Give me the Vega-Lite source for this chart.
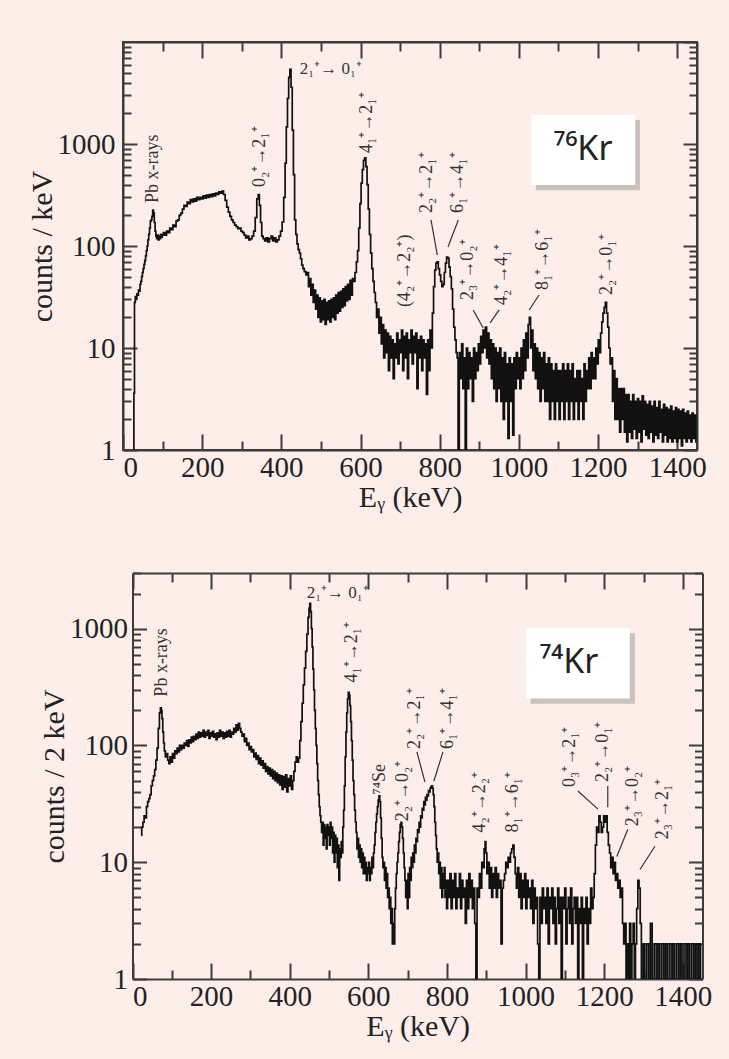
{
  "$schema": "https://vega.github.io/schema/vega-lite/v6.json",
  "background": "#fdeeea",
  "padding": {"left": 26, "top": 40, "right": 25, "bottom": 24},
  "spacing": 59,
  "config": {
    "view": {"stroke": "#3c3c3c", "strokeWidth": 2},
    "axis": {"labelFont": "Liberation Serif", "titleFont": "Liberation Serif", "labelColor": "#222", "titleColor": "#222", "titleFontWeight": "normal", "labelFontSize": 29, "titleFontSize": 30, "domainColor": "#3c3c3c", "domainWidth": 2, "tickColor": "#3c3c3c", "tickWidth": 2, "grid": false}
  },
  "datasets": {
    "kr76": [
      {"E":27,"c":1},{"E":28,"c":3.6},{"E":30,"c":28},{"E":32,"c":32},{"E":34,"c":30},{"E":36,"c":34},{"E":38,"c":33},{"E":40,"c":37},{"E":42,"c":36},{"E":44,"c":42},{"E":46,"c":45},{"E":48,"c":50},{"E":50,"c":55},{"E":52,"c":60},{"E":54,"c":66},{"E":56,"c":72},{"E":58,"c":80},{"E":60,"c":90},{"E":62,"c":100},{"E":64,"c":115},{"E":66,"c":130},{"E":68,"c":150},{"E":70,"c":175},{"E":72,"c":180},{"E":74,"c":195},{"E":76,"c":225},{"E":78,"c":210},{"E":80,"c":170},{"E":82,"c":140},{"E":84,"c":125},{"E":86,"c":118},{"E":88,"c":128},{"E":90,"c":115},{"E":92,"c":125},{"E":94,"c":118},{"E":96,"c":130},{"E":98,"c":122},{"E":100,"c":128},{"E":104,"c":135},{"E":108,"c":128},{"E":112,"c":140},{"E":116,"c":135},{"E":120,"c":150},{"E":124,"c":145},{"E":128,"c":160},{"E":132,"c":155},{"E":136,"c":175},{"E":140,"c":180},{"E":144,"c":200},{"E":148,"c":210},{"E":152,"c":230},{"E":156,"c":250},{"E":160,"c":245},{"E":164,"c":270},{"E":168,"c":260},{"E":172,"c":285},{"E":176,"c":270},{"E":180,"c":290},{"E":184,"c":275},{"E":188,"c":300},{"E":192,"c":285},{"E":196,"c":300},{"E":200,"c":290},{"E":204,"c":310},{"E":208,"c":295},{"E":212,"c":315},{"E":216,"c":300},{"E":220,"c":320},{"E":224,"c":305},{"E":228,"c":325},{"E":232,"c":310},{"E":236,"c":330},{"E":240,"c":320},{"E":244,"c":340},{"E":248,"c":330},{"E":252,"c":345},{"E":256,"c":320},{"E":260,"c":280},{"E":264,"c":240},{"E":268,"c":215},{"E":272,"c":195},{"E":276,"c":180},{"E":280,"c":170},{"E":284,"c":160},{"E":288,"c":155},{"E":292,"c":148},{"E":296,"c":150},{"E":300,"c":140},{"E":304,"c":135},{"E":308,"c":128},{"E":312,"c":120},{"E":316,"c":125},{"E":320,"c":115},{"E":324,"c":118},{"E":328,"c":125},{"E":332,"c":140},{"E":336,"c":190},{"E":340,"c":290},{"E":343,"c":320},{"E":346,"c":250},{"E":349,"c":170},{"E":352,"c":125},{"E":356,"c":118},{"E":360,"c":112},{"E":364,"c":120},{"E":368,"c":110},{"E":372,"c":118},{"E":376,"c":125},{"E":380,"c":112},{"E":384,"c":120},{"E":388,"c":110},{"E":392,"c":115},{"E":396,"c":125},{"E":400,"c":140},{"E":404,"c":172},{"E":408,"c":300},{"E":411,"c":650},{"E":414,"c":1470},{"E":417,"c":2800},{"E":420,"c":4500},{"E":423,"c":5400},{"E":426,"c":3600},{"E":429,"c":1370},{"E":432,"c":500},{"E":435,"c":180},{"E":438,"c":130},{"E":441,"c":105},{"E":444,"c":92},{"E":447,"c":85},{"E":450,"c":75},{"E":453,"c":65},{"E":456,"c":60},{"E":460,"c":56},{"E":464,"c":52},
      {"E":467,"c":55},{"E":470,"c":40},{"E":473,"c":48},{"E":476,"c":33},{"E":479,"c":42},{"E":482,"c":28},{"E":485,"c":37},{"E":488,"c":24},{"E":491,"c":33},{"E":494,"c":20},{"E":497,"c":31},{"E":500,"c":18},{"E":503,"c":29},{"E":506,"c":19},{"E":509,"c":30},{"E":512,"c":17},{"E":515,"c":28},{"E":518,"c":19},{"E":521,"c":29},{"E":524,"c":18},{"E":527,"c":30},{"E":530,"c":20},{"E":533,"c":31},{"E":536,"c":19},{"E":539,"c":33},{"E":542,"c":22},{"E":545,"c":35},{"E":548,"c":23},{"E":551,"c":36},{"E":554,"c":25},{"E":557,"c":38},{"E":560,"c":26},{"E":563,"c":40},{"E":566,"c":29},{"E":569,"c":42},{"E":572,"c":30},{"E":575,"c":46},{"E":578,"c":33},{"E":581,"c":48},{"E":584,"c":45},{"E":588,"c":55},{"E":591,"c":70},{"E":594,"c":90},{"E":597,"c":150},{"E":600,"c":260},{"E":603,"c":414},{"E":606,"c":560},{"E":609,"c":690},{"E":612,"c":730},{"E":615,"c":600},{"E":618,"c":400},{"E":621,"c":230},{"E":624,"c":130},{"E":627,"c":85},{"E":630,"c":60},{"E":633,"c":45},{"E":636,"c":35},
      {"E":639,"c":28},{"E":642,"c":20},{"E":645,"c":24},{"E":648,"c":14},{"E":651,"c":20},{"E":654,"c":11},{"E":657,"c":17},{"E":660,"c":8},{"E":663,"c":15},{"E":666,"c":9},{"E":669,"c":14},{"E":672,"c":6},{"E":675,"c":13},{"E":678,"c":8},{"E":681,"c":12},{"E":684,"c":5},{"E":687,"c":11},{"E":690,"c":8},{"E":693,"c":14},{"E":696,"c":7},{"E":699,"c":12},{"E":702,"c":9},{"E":705,"c":15},{"E":708,"c":6},{"E":711,"c":13},{"E":714,"c":8},{"E":717,"c":14},{"E":720,"c":5},{"E":723,"c":12},{"E":726,"c":9},{"E":729,"c":15},{"E":732,"c":7},{"E":735,"c":13},{"E":738,"c":9},{"E":741,"c":14},{"E":744,"c":4},{"E":747,"c":12},{"E":750,"c":8},{"E":753,"c":13},{"E":756,"c":6},{"E":759,"c":12},{"E":762,"c":8},{"E":765,"c":11},{"E":768,"c":3.5},{"E":771,"c":12},{"E":774,"c":6},{"E":777,"c":15},{"E":780,"c":10},{"E":783,"c":22},{"E":786,"c":40},{"E":789,"c":58},{"E":792,"c":68},{"E":795,"c":70},{"E":798,"c":60},{"E":801,"c":52},{"E":804,"c":45},{"E":807,"c":40},{"E":810,"c":42},{"E":813,"c":55},{"E":816,"c":68},{"E":819,"c":78},{"E":822,"c":76},{"E":825,"c":62},{"E":828,"c":50},{"E":831,"c":38},{"E":834,"c":24},{"E":837,"c":16},{"E":840,"c":12},{"E":843,"c":9},
      {"E":845,"c":8},{"E":848,"c":1},{"E":851,"c":9},{"E":854,"c":5},{"E":857,"c":11},{"E":860,"c":4},{"E":863,"c":8},{"E":866,"c":1},{"E":869,"c":10},{"E":872,"c":4},{"E":875,"c":9},{"E":878,"c":5},{"E":881,"c":8},{"E":884,"c":3},{"E":887,"c":10},{"E":890,"c":5},{"E":893,"c":9},{"E":896,"c":6},{"E":899,"c":11},{"E":902,"c":7},{"E":905,"c":13},{"E":908,"c":9},{"E":911,"c":15},{"E":914,"c":10},{"E":917,"c":16},{"E":920,"c":8},{"E":923,"c":14},{"E":926,"c":7},{"E":929,"c":12},{"E":932,"c":5},{"E":935,"c":11},{"E":938,"c":4},{"E":941,"c":10},{"E":944,"c":3},{"E":947,"c":9},{"E":950,"c":4},{"E":953,"c":10},{"E":956,"c":3},{"E":959,"c":8},{"E":962,"c":2},{"E":965,"c":9},{"E":968,"c":3},{"E":971,"c":7},{"E":974,"c":1.3},{"E":977,"c":8},{"E":980,"c":3},{"E":983,"c":7},{"E":986,"c":1.4},{"E":989,"c":8},{"E":992,"c":4},{"E":995,"c":9},{"E":998,"c":5},{"E":1001,"c":8},{"E":1004,"c":4},{"E":1007,"c":10},{"E":1010,"c":5},{"E":1013,"c":12},{"E":1016,"c":6},{"E":1019,"c":14},{"E":1022,"c":8},{"E":1025,"c":17},{"E":1028,"c":20},{"E":1031,"c":10},{"E":1034,"c":15},{"E":1037,"c":6},{"E":1040,"c":11},{"E":1043,"c":5},{"E":1046,"c":10},{"E":1049,"c":4},{"E":1052,"c":9},{"E":1055,"c":3},{"E":1058,"c":8},{"E":1061,"c":4},{"E":1064,"c":9},{"E":1067,"c":3},{"E":1070,"c":7},{"E":1073,"c":3},{"E":1076,"c":8},{"E":1079,"c":2},{"E":1082,"c":7},{"E":1085,"c":3},{"E":1088,"c":6},{"E":1091,"c":2},{"E":1094,"c":7},{"E":1097,"c":3},{"E":1100,"c":6},{"E":1103,"c":2},{"E":1106,"c":6},{"E":1109,"c":3},{"E":1112,"c":7},{"E":1115,"c":2},{"E":1118,"c":6},{"E":1121,"c":3},{"E":1124,"c":7},{"E":1127,"c":2},{"E":1130,"c":6},{"E":1133,"c":3},{"E":1136,"c":7},{"E":1139,"c":2},{"E":1142,"c":5},{"E":1145,"c":3},{"E":1148,"c":6},{"E":1151,"c":2},{"E":1154,"c":6},{"E":1157,"c":3},{"E":1160,"c":5},{"E":1163,"c":2},{"E":1166,"c":7},{"E":1169,"c":3},{"E":1172,"c":6},{"E":1175,"c":4},{"E":1178,"c":8},{"E":1181,"c":4},{"E":1184,"c":9},{"E":1187,"c":5},{"E":1190,"c":8},{"E":1193,"c":5},{"E":1196,"c":10},{"E":1199,"c":7},{"E":1202,"c":12},{"E":1205,"c":9},{"E":1208,"c":14},{"E":1211,"c":18},{"E":1214,"c":22},{"E":1217,"c":25},{"E":1220,"c":28},{"E":1223,"c":22},{"E":1226,"c":16},{"E":1229,"c":10},{"E":1232,"c":7},{"E":1235,"c":8},{"E":1238,"c":3},{"E":1241,"c":6},{"E":1244,"c":2},{"E":1247,"c":5},{"E":1250,"c":2},{"E":1253,"c":4},{"E":1256,"c":1.5},{"E":1259,"c":4},{"E":1262,"c":2},{"E":1265,"c":4},{"E":1268,"c":1.5},{"E":1271,"c":3.5},{"E":1274,"c":1.2},{"E":1277,"c":3.5},{"E":1280,"c":1.5},{"E":1283,"c":3},{"E":1286,"c":1.3},{"E":1289,"c":3.5},{"E":1292,"c":1.6},{"E":1295,"c":3},{"E":1298,"c":1.3},{"E":1301,"c":3.2},{"E":1304,"c":1.5},{"E":1307,"c":3},{"E":1310,"c":1.2},{"E":1313,"c":3.4},{"E":1316,"c":1.6},{"E":1319,"c":3},{"E":1322,"c":1.4},{"E":1325,"c":2.8},{"E":1328,"c":1.3},{"E":1331,"c":3},{"E":1334,"c":1.5},{"E":1337,"c":2.7},{"E":1340,"c":1.2},{"E":1343,"c":3},{"E":1346,"c":1.4},{"E":1349,"c":2.6},{"E":1352,"c":1.3},{"E":1355,"c":3},{"E":1358,"c":1.5},{"E":1361,"c":2.5},{"E":1364,"c":1.2},{"E":1367,"c":2.8},{"E":1370,"c":1.4},{"E":1373,"c":2.6},{"E":1376,"c":1.2},{"E":1379,"c":2.5},{"E":1382,"c":1.3},{"E":1385,"c":2.7},{"E":1388,"c":1.2},{"E":1391,"c":2.4},{"E":1394,"c":1.3},{"E":1397,"c":2.6},{"E":1400,"c":1.2},{"E":1403,"c":2.5},{"E":1406,"c":1.3},{"E":1409,"c":2.4},{"E":1412,"c":1.1},{"E":1415,"c":2.5},{"E":1418,"c":1.3},{"E":1421,"c":2.3},{"E":1424,"c":1.2},{"E":1427,"c":2.4},{"E":1430,"c":1.3},{"E":1433,"c":2.2},{"E":1436,"c":1.2},{"E":1439,"c":2.3},{"E":1442,"c":1.3},{"E":1445,"c":2.2},{"E":1449,"c":1.2}
    ],
    "kr74": [
      {"E":22,"c":17},{"E":25,"c":20},{"E":28,"c":22},{"E":31,"c":25},{"E":34,"c":24},{"E":37,"c":30},{"E":40,"c":33},{"E":43,"c":35},{"E":46,"c":38},{"E":49,"c":45},{"E":52,"c":50},{"E":55,"c":55},{"E":58,"c":62},{"E":61,"c":75},{"E":64,"c":95},{"E":67,"c":140},{"E":70,"c":190},{"E":72,"c":210},{"E":74,"c":200},{"E":76,"c":170},{"E":78,"c":130},{"E":80,"c":105},{"E":82,"c":90},{"E":85,"c":80},{"E":88,"c":85},{"E":91,"c":75},{"E":94,"c":70},{"E":97,"c":80},{"E":100,"c":72},{"E":103,"c":85},{"E":106,"c":78},{"E":109,"c":90},{"E":112,"c":85},{"E":115,"c":95},{"E":118,"c":88},{"E":121,"c":100},{"E":124,"c":92},{"E":127,"c":100},{"E":130,"c":95},{"E":133,"c":105},{"E":136,"c":100},{"E":139,"c":110},{"E":142,"c":98},{"E":145,"c":112},{"E":148,"c":105},{"E":151,"c":118},{"E":154,"c":108},{"E":157,"c":120},{"E":160,"c":112},{"E":163,"c":125},{"E":166,"c":115},{"E":169,"c":130},{"E":172,"c":118},{"E":175,"c":128},{"E":178,"c":120},{"E":181,"c":135},{"E":184,"c":118},{"E":187,"c":130},{"E":190,"c":122},{"E":193,"c":135},{"E":196,"c":115},{"E":199,"c":128},{"E":202,"c":120},{"E":205,"c":132},{"E":208,"c":118},{"E":211,"c":126},{"E":214,"c":112},{"E":217,"c":128},{"E":220,"c":118},{"E":223,"c":135},{"E":226,"c":120},{"E":229,"c":130},{"E":232,"c":115},{"E":235,"c":128},{"E":238,"c":118},{"E":241,"c":132},{"E":244,"c":120},{"E":247,"c":135},{"E":250,"c":118},{"E":253,"c":130},{"E":256,"c":125},{"E":259,"c":140},{"E":262,"c":130},{"E":265,"c":150},{"E":268,"c":135},{"E":271,"c":155},{"E":274,"c":140},{"E":277,"c":130},{"E":280,"c":120},{"E":283,"c":125},{"E":286,"c":108},{"E":289,"c":115},{"E":292,"c":100},{"E":295,"c":105},{"E":298,"c":92},{"E":301,"c":98},{"E":304,"c":88},{"E":307,"c":92},{"E":310,"c":80},{"E":313,"c":86},{"E":316,"c":76},{"E":319,"c":82},{"E":322,"c":70},{"E":325,"c":78},{"E":328,"c":68},{"E":331,"c":74},{"E":334,"c":64},{"E":337,"c":70},{"E":340,"c":60},{"E":343,"c":66},{"E":346,"c":57},{"E":349,"c":64},{"E":352,"c":55},{"E":355,"c":62},{"E":358,"c":52},{"E":361,"c":60},{"E":364,"c":50},{"E":367,"c":58},{"E":370,"c":48},{"E":373,"c":56},{"E":376,"c":46},{"E":379,"c":55},{"E":382,"c":42},{"E":385,"c":54},{"E":388,"c":44},{"E":391,"c":56},{"E":394,"c":40},{"E":397,"c":52},{"E":400,"c":45},{"E":403,"c":55},{"E":406,"c":42},{"E":409,"c":50},{"E":412,"c":60},{"E":415,"c":72},{"E":418,"c":80},{"E":421,"c":72},{"E":424,"c":78},{"E":427,"c":110},{"E":430,"c":160},{"E":433,"c":230},{"E":436,"c":330},{"E":439,"c":460},{"E":442,"c":640},{"E":445,"c":900},{"E":448,"c":1250},{"E":450,"c":1500},{"E":452,"c":1650},{"E":454,"c":1400},{"E":456,"c":1000},{"E":458,"c":700},{"E":460,"c":450},{"E":462,"c":300},{"E":464,"c":200},{"E":466,"c":140},{"E":468,"c":100},{"E":470,"c":70},{"E":472,"c":50},{"E":474,"c":38},{"E":476,"c":30},{"E":478,"c":25},{"E":480,"c":22},{"E":482,"c":18},{"E":484,"c":22},{"E":486,"c":14},{"E":488,"c":21},{"E":490,"c":16},{"E":492,"c":20},{"E":494,"c":13},{"E":496,"c":21},{"E":498,"c":17},{"E":500,"c":20},{"E":502,"c":14},{"E":504,"c":22},{"E":506,"c":16},{"E":508,"c":20},{"E":510,"c":12},{"E":512,"c":18},{"E":514,"c":10},{"E":516,"c":17},{"E":518,"c":12},{"E":520,"c":16},{"E":522,"c":9},{"E":524,"c":14},{"E":526,"c":7},{"E":528,"c":13},{"E":530,"c":11},{"E":532,"c":15},{"E":534,"c":12},{"E":536,"c":20},{"E":538,"c":28},{"E":540,"c":45},{"E":542,"c":80},{"E":544,"c":130},{"E":546,"c":190},{"E":548,"c":250},{"E":550,"c":285},{"E":552,"c":270},{"E":554,"c":220},{"E":556,"c":160},{"E":558,"c":110},{"E":560,"c":75},
      {"E":562,"c":50},{"E":564,"c":38},{"E":566,"c":28},{"E":568,"c":22},{"E":570,"c":18},{"E":572,"c":13},{"E":574,"c":16},{"E":576,"c":11},{"E":578,"c":14},{"E":580,"c":10},{"E":582,"c":13},{"E":584,"c":9},{"E":586,"c":12},{"E":588,"c":8},{"E":590,"c":11},{"E":592,"c":8},{"E":594,"c":10},{"E":596,"c":7},{"E":598,"c":9},{"E":600,"c":8},{"E":602,"c":10},{"E":604,"c":7},{"E":606,"c":9},{"E":608,"c":8},{"E":610,"c":11},{"E":612,"c":9},{"E":614,"c":12},{"E":616,"c":14},{"E":618,"c":18},{"E":620,"c":22},{"E":622,"c":26},{"E":624,"c":30},{"E":626,"c":34},{"E":628,"c":37},{"E":630,"c":33},{"E":632,"c":24},{"E":634,"c":16},{"E":636,"c":11},{"E":638,"c":9},{"E":640,"c":10},{"E":642,"c":7},{"E":644,"c":9},{"E":646,"c":6},{"E":648,"c":8},{"E":650,"c":5},{"E":652,"c":6},{"E":654,"c":4},{"E":656,"c":5},{"E":658,"c":3},{"E":660,"c":4},{"E":662,"c":2},{"E":664,"c":3},{"E":666,"c":2},{"E":668,"c":4},{"E":670,"c":6},{"E":672,"c":8},{"E":674,"c":10},{"E":676,"c":12},{"E":678,"c":15},{"E":680,"c":18},{"E":682,"c":21},{"E":684,"c":22},{"E":686,"c":20},{"E":688,"c":16},{"E":690,"c":12},{"E":692,"c":9},{"E":694,"c":7},{"E":696,"c":5},{"E":698,"c":7},{"E":700,"c":4},{"E":702,"c":8},{"E":704,"c":5},{"E":706,"c":9},{"E":708,"c":7},{"E":710,"c":11},{"E":712,"c":9},{"E":714,"c":12},{"E":716,"c":10},{"E":718,"c":14},{"E":720,"c":12},{"E":722,"c":16},{"E":724,"c":15},{"E":726,"c":19},{"E":728,"c":18},{"E":730,"c":22},{"E":732,"c":20},{"E":734,"c":25},{"E":736,"c":24},{"E":738,"c":29},{"E":740,"c":28},{"E":742,"c":33},{"E":744,"c":31},{"E":746,"c":36},{"E":748,"c":34},{"E":750,"c":38},{"E":752,"c":37},{"E":754,"c":41},{"E":756,"c":40},{"E":758,"c":43},{"E":760,"c":44},{"E":762,"c":45},{"E":764,"c":43},{"E":766,"c":38},{"E":768,"c":30},{"E":770,"c":22},{"E":772,"c":17},{"E":774,"c":13},{"E":776,"c":10},{"E":778,"c":12},{"E":780,"c":8},{"E":782,"c":10},{"E":784,"c":6},{"E":786,"c":9},{"E":788,"c":5},{"E":790,"c":8},{"E":792,"c":6},{"E":794,"c":9},{"E":796,"c":5},{"E":798,"c":7},
      {"E":800,"c":4},{"E":803,"c":7},{"E":806,"c":5},{"E":809,"c":8},{"E":812,"c":4},{"E":815,"c":7},{"E":818,"c":5},{"E":821,"c":8},{"E":824,"c":4},{"E":827,"c":6},{"E":830,"c":5},{"E":833,"c":8},{"E":836,"c":4},{"E":839,"c":7},{"E":842,"c":5},{"E":845,"c":6},{"E":848,"c":3},{"E":851,"c":7},{"E":854,"c":4},{"E":857,"c":8},{"E":860,"c":5},{"E":863,"c":7},{"E":866,"c":4},{"E":869,"c":6},{"E":872,"c":3},{"E":875,"c":1},{"E":878,"c":6},{"E":881,"c":5},{"E":884,"c":8},{"E":887,"c":6},{"E":890,"c":10},{"E":893,"c":9},{"E":896,"c":13},{"E":898,"c":15},{"E":900,"c":12},{"E":903,"c":8},{"E":906,"c":10},{"E":909,"c":6},{"E":912,"c":9},{"E":915,"c":5},{"E":918,"c":8},{"E":921,"c":6},{"E":924,"c":9},{"E":927,"c":5},{"E":930,"c":8},{"E":933,"c":6},{"E":936,"c":7},{"E":939,"c":2},{"E":942,"c":6},{"E":945,"c":7},{"E":948,"c":8},{"E":951,"c":10},{"E":954,"c":9},{"E":957,"c":11},{"E":960,"c":10},{"E":963,"c":12},{"E":966,"c":13},{"E":969,"c":14},{"E":972,"c":11},{"E":975,"c":8},{"E":978,"c":6},{"E":981,"c":9},{"E":984,"c":5},{"E":987,"c":8},{"E":990,"c":4},{"E":993,"c":7},{"E":996,"c":5},{"E":999,"c":8},{"E":1002,"c":4},{"E":1005,"c":7},{"E":1008,"c":5},{"E":1011,"c":6},{"E":1014,"c":4},{"E":1017,"c":7},{"E":1020,"c":3},{"E":1023,"c":6},{"E":1026,"c":4},{"E":1029,"c":5},{"E":1032,"c":2},{"E":1035,"c":1},{"E":1038,"c":5},{"E":1041,"c":3},{"E":1044,"c":6},{"E":1047,"c":4},{"E":1050,"c":5},{"E":1053,"c":3},{"E":1056,"c":6},{"E":1059,"c":2},{"E":1062,"c":5},{"E":1065,"c":4},{"E":1068,"c":6},{"E":1071,"c":3},{"E":1074,"c":5},{"E":1077,"c":2},{"E":1080,"c":4},{"E":1083,"c":6},{"E":1086,"c":3},{"E":1089,"c":5},{"E":1092,"c":1},{"E":1095,"c":5},{"E":1098,"c":4},{"E":1101,"c":6},{"E":1104,"c":2},{"E":1107,"c":4},{"E":1110,"c":5},{"E":1113,"c":3},{"E":1116,"c":6},{"E":1119,"c":2},{"E":1122,"c":4},{"E":1125,"c":5},{"E":1128,"c":3},{"E":1131,"c":5},{"E":1134,"c":1},{"E":1137,"c":4},{"E":1140,"c":3},{"E":1143,"c":5},{"E":1146,"c":1},{"E":1149,"c":4},{"E":1152,"c":3},{"E":1155,"c":5},{"E":1158,"c":2},{"E":1161,"c":4},{"E":1164,"c":3},{"E":1167,"c":6},{"E":1170,"c":4},{"E":1173,"c":5},{"E":1176,"c":8},{"E":1179,"c":14},{"E":1182,"c":20},{"E":1185,"c":18},{"E":1188,"c":25},{"E":1191,"c":22},{"E":1194,"c":18},{"E":1197,"c":20},{"E":1200,"c":25},{"E":1203,"c":22},{"E":1206,"c":25},{"E":1209,"c":18},{"E":1212,"c":14},{"E":1215,"c":12},{"E":1218,"c":9},{"E":1221,"c":11},{"E":1224,"c":8},{"E":1227,"c":10},{"E":1230,"c":7},{"E":1233,"c":8},{"E":1236,"c":6},{"E":1239,"c":7},{"E":1242,"c":5},{"E":1245,"c":6},{"E":1248,"c":3},{"E":1251,"c":2},{"E":1254,"c":3},{"E":1257,"c":1},{"E":1260,"c":2},{"E":1263,"c":1},{"E":1266,"c":3},{"E":1269,"c":1},{"E":1272,"c":2},{"E":1275,"c":3},{"E":1278,"c":1},{"E":1281,"c":2},{"E":1284,"c":4},{"E":1287,"c":7},{"E":1290,"c":6},{"E":1293,"c":3},{"E":1296,"c":1},{"E":1302,"c":2},{"E":1304,"c":1},{"E":1312,"c":2},{"E":1314,"c":1},{"E":1321,"c":3},{"E":1323,"c":1},{"E":1331,"c":2},{"E":1333,"c":1},{"E":1340,"c":2},{"E":1342,"c":1},{"E":1350,"c":2},{"E":1352,"c":1},{"E":1359,"c":2},{"E":1361,"c":1},{"E":1369,"c":2},{"E":1371,"c":1},{"E":1378,"c":2},{"E":1380,"c":1},{"E":1388,"c":2},{"E":1390,"c":1},{"E":1397,"c":2},{"E":1399,"c":1},{"E":1407,"c":2},{"E":1409,"c":1},{"E":1416,"c":2},{"E":1418,"c":1},{"E":1426,"c":2},{"E":1428,"c":1},{"E":1435,"c":2},{"E":1437,"c":1},{"E":1444,"c":2},{"E":1446,"c":1},{"E":1449,"c":1}
    ],
    "ann76": [
      {"label":"Pb x-rays","E":76,"c":264},
      {"label":"0₂⁺→2₁⁺","E":346,"c":379},
      {"label":"4₁⁺→2₁⁺","E":617,"c":816},
      {"label":"2₂⁺→2₁⁺","E":768,"c":211},
      {"label":"6₁⁺→4₁⁺","E":847,"c":211},
      {"label":"(4₂⁺→2₂⁺)","E":713,"c":25.2},
      {"label":"2₃⁺→0₂⁺","E":872,"c":29.6},
      {"label":"4₂⁺→4₁⁺","E":958,"c":26.4},
      {"label":"8₁⁺→6₁⁺","E":1061,"c":37},
      {"label":"2₂⁺→0₁⁺","E":1223,"c":33.1}
    ],
    "lead76": [
      {"E":778,"c":180,"E2":794,"c2":81.6},
      {"E":847,"c":180,"E2":821,"c2":97.8},
      {"E":884.5,"c":23.6,"E2":910,"c2":15.7},
      {"E":950,"c":23.6,"E2":927.5,"c2":17.6},
      {"E":1051,"c":33.1,"E2":1026,"c2":23.6}
    ],
    "head76": [{"label":"2₁⁺→ 0₁⁺","E":525,"c":5436}],
    "nuc76": [{"label":"⁷⁶Kr","E":1162,"c":873}],
    "ann74": [
      {"label":"Pb x-rays","E":75,"c":262},
      {"label":"4₁⁺→2₁⁺","E":558,"c":346},
      {"label":"⁷⁴Se","E":629,"c":38},
      {"label":"2₂⁺→0₂⁺","E":688,"c":22.4},
      {"label":"2₂⁺→2₁⁺","E":718,"c":93.5},
      {"label":"6₁⁺→4₁⁺","E":802,"c":93.5},
      {"label":"4₂⁺→2₂⁺","E":884,"c":18},
      {"label":"8₁⁺→6₁⁺","E":968,"c":18},
      {"label":"0₃⁺→2₁⁺","E":1113,"c":44},
      {"label":"2₂⁺→0₁⁺","E":1196.5,"c":48.6},
      {"label":"2₃⁺→0₂⁺","E":1273,"c":20.3},
      {"label":"2₃⁺→2₁⁺","E":1349,"c":15.7}
    ],
    "lead74": [
      {"E":723.5,"c":88.1,"E2":744,"c2":48.6},
      {"E":789.7,"c":88.1,"E2":766.8,"c2":49.6},
      {"E":1133,"c":40.7,"E2":1184,"c2":28.5},
      {"E":1209,"c":44.9,"E2":1209,"c2":29.6},
      {"E":1260,"c":19.2,"E2":1232,"c2":11.2},
      {"E":1329,"c":13.7,"E2":1291,"c2":8.67}
    ],
    "head74": [{"label":"2₁⁺→ 0₁⁺","E":522,"c":2018}],
    "nuc74": [{"label":"⁷⁴Kr","E":1110,"c":504}]
  },
  "vconcat": [
    {
      "width": 574,
      "height": 408,
      "resolve": {"axis": {"x": "independent", "y": "independent"}},
      "layer": [
        {
          "data": {"name": "nuc76"},
          "mark": {"type": "rect", "fill": "#8a8a8a", "opacity": 0.45},
          "encoding": {
            "x": {"datum": 1043, "type": "quantitative", "scale": {"type": "linear", "domain": [0, 1450], "nice": false, "zero": false}, "axis": null},
            "x2": {"datum": 1306},
            "y": {"datum": 353, "type": "quantitative", "scale": {"type": "log", "domain": [1, 10000], "nice": false}, "axis": null},
            "y2": {"datum": 1718}
          }
        },
        {
          "data": {"name": "nuc76"},
          "mark": {"type": "rect", "fill": "#ffffff"},
          "encoding": {
            "x": {"datum": 1031, "type": "quantitative", "scale": {"type": "linear", "domain": [0, 1450], "nice": false, "zero": false}, "axis": null},
            "x2": {"datum": 1294},
            "y": {"datum": 396, "type": "quantitative", "scale": {"type": "log", "domain": [1, 10000], "nice": false}, "axis": null},
            "y2": {"datum": 1924}
          }
        },
        {
          "data": {"name": "nuc76"},
          "mark": {"type": "text", "font": "Noto Sans", "fontSize": 34, "color": "#222", "align": "center", "baseline": "middle"},
          "encoding": {
            "x": {"field": "E", "type": "quantitative", "scale": {"type": "linear", "domain": [0, 1450], "nice": false, "zero": false}, "axis": null},
            "y": {"field": "c", "type": "quantitative", "scale": {"type": "log", "domain": [1, 10000], "nice": false}, "axis": null},
            "text": {"field": "label"}
          }
        },
        {
          "data": {"name": "kr76"},
          "mark": {"type": "line", "interpolate": "step", "color": "#111", "strokeWidth": 1.7, "clip": true},
          "encoding": {
            "x": {"field": "E", "type": "quantitative", "scale": {"type": "linear", "domain": [0, 1450], "nice": false, "zero": false},
              "axis": {"orient": "bottom", "title": "Eᵧ  (keV)", "values": [0,200,400,600,800,1000,1200,1400], "format": "d", "tickSize": -16, "labelPadding": 19, "titlePadding": 0}},
            "y": {"field": "c", "type": "quantitative", "scale": {"type": "log", "domain": [1, 10000], "nice": false},
              "axis": {"orient": "left", "title": "counts / keV", "values": [1,10,100,1000], "format": "d", "tickSize": -14, "labelPadding": 22, "titlePadding": 0}}
          }
        },
        {
          "data": {"name": "ann76"},
          "mark": {"type": "text", "angle": 270, "align": "left", "baseline": "middle", "font": "Liberation Serif", "fontSize": 18, "color": "#333"},
          "encoding": {
            "x": {"field": "E", "type": "quantitative", "scale": {"type": "linear", "domain": [0, 1450], "nice": false, "zero": false},
              "axis": {"orient": "bottom", "title": null, "labels": false, "domain": false, "values": [100,300,500,700,900,1100,1300], "tickSize": -9}},
            "y": {"field": "c", "type": "quantitative", "scale": {"type": "log", "domain": [1, 10000], "nice": false},
              "axis": {"orient": "left", "title": null, "labels": false, "domain": false, "values": [2,3,4,5,6,7,8,9,20,30,40,50,60,70,80,90,200,300,400,500,600,700,800,900,2000,3000,4000,5000,6000,7000,8000,9000], "tickSize": -8}},
            "text": {"field": "label"}
          }
        },
        {
          "data": {"name": "head76"},
          "mark": {"type": "text", "align": "center", "baseline": "middle", "font": "Liberation Serif", "fontSize": 17, "color": "#333"},
          "encoding": {
            "x": {"field": "E", "type": "quantitative", "scale": {"type": "linear", "domain": [0, 1450], "nice": false, "zero": false},
              "axis": {"orient": "top", "title": null, "labels": false, "domain": false, "values": [100,300,500,700,900,1100,1300], "tickSize": -9}},
            "y": {"field": "c", "type": "quantitative", "scale": {"type": "log", "domain": [1, 10000], "nice": false},
              "axis": {"orient": "right", "title": null, "labels": false, "domain": false, "values": [2,3,4,5,6,7,8,9,20,30,40,50,60,70,80,90,200,300,400,500,600,700,800,900,2000,3000,4000,5000,6000,7000,8000,9000], "tickSize": -8}},
            "text": {"field": "label"}
          }
        },
        {
          "data": {"name": "lead76"},
          "mark": {"type": "rule", "color": "#333", "strokeWidth": 1.2},
          "encoding": {
            "x": {"field": "E", "type": "quantitative", "scale": {"type": "linear", "domain": [0, 1450], "nice": false, "zero": false},
              "axis": {"orient": "top", "title": null, "labels": false, "values": [0,200,400,600,800,1000,1200,1400], "tickSize": -16}},
            "y": {"field": "c", "type": "quantitative", "scale": {"type": "log", "domain": [1, 10000], "nice": false},
              "axis": {"orient": "right", "title": null, "labels": false, "values": [1,10,100,1000,10000], "tickSize": -14}},
            "x2": {"field": "E2"},
            "y2": {"field": "c2"}
          }
        }
      ]
    },
    {
      "width": 579.5,
      "height": 406,
      "view": {"stroke": null},
      "resolve": {"axis": {"x": "independent", "y": "independent"}},
      "layer": [
        {
          "data": {"name": "nuc74"},
          "mark": {"type": "rect", "fill": "#8a8a8a", "opacity": 0.45},
          "encoding": {
            "x": {"datum": 1013, "type": "quantitative", "scale": {"type": "linear", "domain": [0, 1450], "range": [9.5, 579.5], "nice": false, "zero": false}, "axis": null},
            "x2": {"datum": 1278},
            "y": {"datum": 228, "type": "quantitative", "scale": {"type": "log", "domain": [1, 3000], "nice": false}, "axis": null},
            "y2": {"datum": 913}
          }
        },
        {
          "data": {"name": "nuc74"},
          "mark": {"type": "rect", "fill": "#ffffff"},
          "encoding": {
            "x": {"datum": 1000.6, "type": "quantitative", "scale": {"type": "linear", "domain": [0, 1450], "range": [9.5, 579.5], "nice": false, "zero": false}, "axis": null},
            "x2": {"datum": 1265},
            "y": {"datum": 252, "type": "quantitative", "scale": {"type": "log", "domain": [1, 3000], "nice": false}, "axis": null},
            "y2": {"datum": 1008}
          }
        },
        {
          "data": {"name": "nuc74"},
          "mark": {"type": "text", "font": "Noto Sans", "fontSize": 34, "color": "#222", "align": "center", "baseline": "middle"},
          "encoding": {
            "x": {"field": "E", "type": "quantitative", "scale": {"type": "linear", "domain": [0, 1450], "range": [9.5, 579.5], "nice": false, "zero": false}, "axis": null},
            "y": {"field": "c", "type": "quantitative", "scale": {"type": "log", "domain": [1, 3000], "nice": false}, "axis": null},
            "text": {"field": "label"}
          }
        },
        {
          "data": {"name": "kr74"},
          "mark": {"type": "line", "interpolate": "step", "color": "#111", "strokeWidth": 1.7, "clip": true},
          "encoding": {
            "x": {"field": "E", "type": "quantitative", "scale": {"type": "linear", "domain": [0, 1450], "range": [9.5, 579.5], "nice": false, "zero": false},
              "axis": {"orient": "bottom", "title": "Eᵧ  (keV)", "values": [0,200,400,600,800,1000,1200,1400], "format": "d", "tickSize": -16, "labelPadding": 19, "titlePadding": 0}},
            "y": {"field": "c", "type": "quantitative", "scale": {"type": "log", "domain": [1, 3000], "nice": false},
              "axis": {"orient": "left", "offset": -9.5, "title": "counts / 2 keV", "values": [1,10,100,1000], "format": "d", "tickSize": -14, "labelPadding": 19, "titlePadding": 0}}
          }
        },
        {
          "data": {"name": "ann74"},
          "mark": {"type": "text", "angle": 270, "align": "left", "baseline": "middle", "font": "Liberation Serif", "fontSize": 18, "color": "#333"},
          "encoding": {
            "x": {"field": "E", "type": "quantitative", "scale": {"type": "linear", "domain": [0, 1450], "range": [9.5, 579.5], "nice": false, "zero": false},
              "axis": {"orient": "bottom", "title": null, "labels": false, "domain": false, "values": [100,300,500,700,900,1100,1300], "tickSize": -9}},
            "y": {"field": "c", "type": "quantitative", "scale": {"type": "log", "domain": [1, 3000], "nice": false},
              "axis": {"orient": "left", "offset": -9.5, "title": null, "labels": false, "domain": false, "values": [2,3,4,5,6,7,8,9,20,30,40,50,60,70,80,90,200,300,400,500,600,700,800,900,2000,3000], "tickSize": -8}},
            "text": {"field": "label"}
          }
        },
        {
          "data": {"name": "head74"},
          "mark": {"type": "text", "align": "center", "baseline": "middle", "font": "Liberation Serif", "fontSize": 17, "color": "#333"},
          "encoding": {
            "x": {"field": "E", "type": "quantitative", "scale": {"type": "linear", "domain": [0, 1450], "range": [9.5, 579.5], "nice": false, "zero": false},
              "axis": {"orient": "top", "title": null, "labels": false, "domain": false, "values": [100,300,500,700,900,1100,1300], "tickSize": -9}},
            "y": {"field": "c", "type": "quantitative", "scale": {"type": "log", "domain": [1, 3000], "nice": false},
              "axis": {"orient": "right", "title": null, "labels": false, "domain": false, "values": [2,3,4,5,6,7,8,9,20,30,40,50,60,70,80,90,200,300,400,500,600,700,800,900,2000,3000], "tickSize": -8}},
            "text": {"field": "label"}
          }
        },
        {
          "data": {"name": "lead74"},
          "mark": {"type": "rule", "color": "#333", "strokeWidth": 1.2},
          "encoding": {
            "x": {"field": "E", "type": "quantitative", "scale": {"type": "linear", "domain": [0, 1450], "range": [9.5, 579.5], "nice": false, "zero": false},
              "axis": {"orient": "top", "title": null, "labels": false, "values": [0,200,400,600,800,1000,1200,1400], "tickSize": -16}},
            "y": {"field": "c", "type": "quantitative", "scale": {"type": "log", "domain": [1, 3000], "nice": false},
              "axis": {"orient": "right", "title": null, "labels": false, "values": [1,10,100,1000], "tickSize": -14}},
            "x2": {"field": "E2"},
            "y2": {"field": "c2"}
          }
        }
      ]
    }
  ]
}
